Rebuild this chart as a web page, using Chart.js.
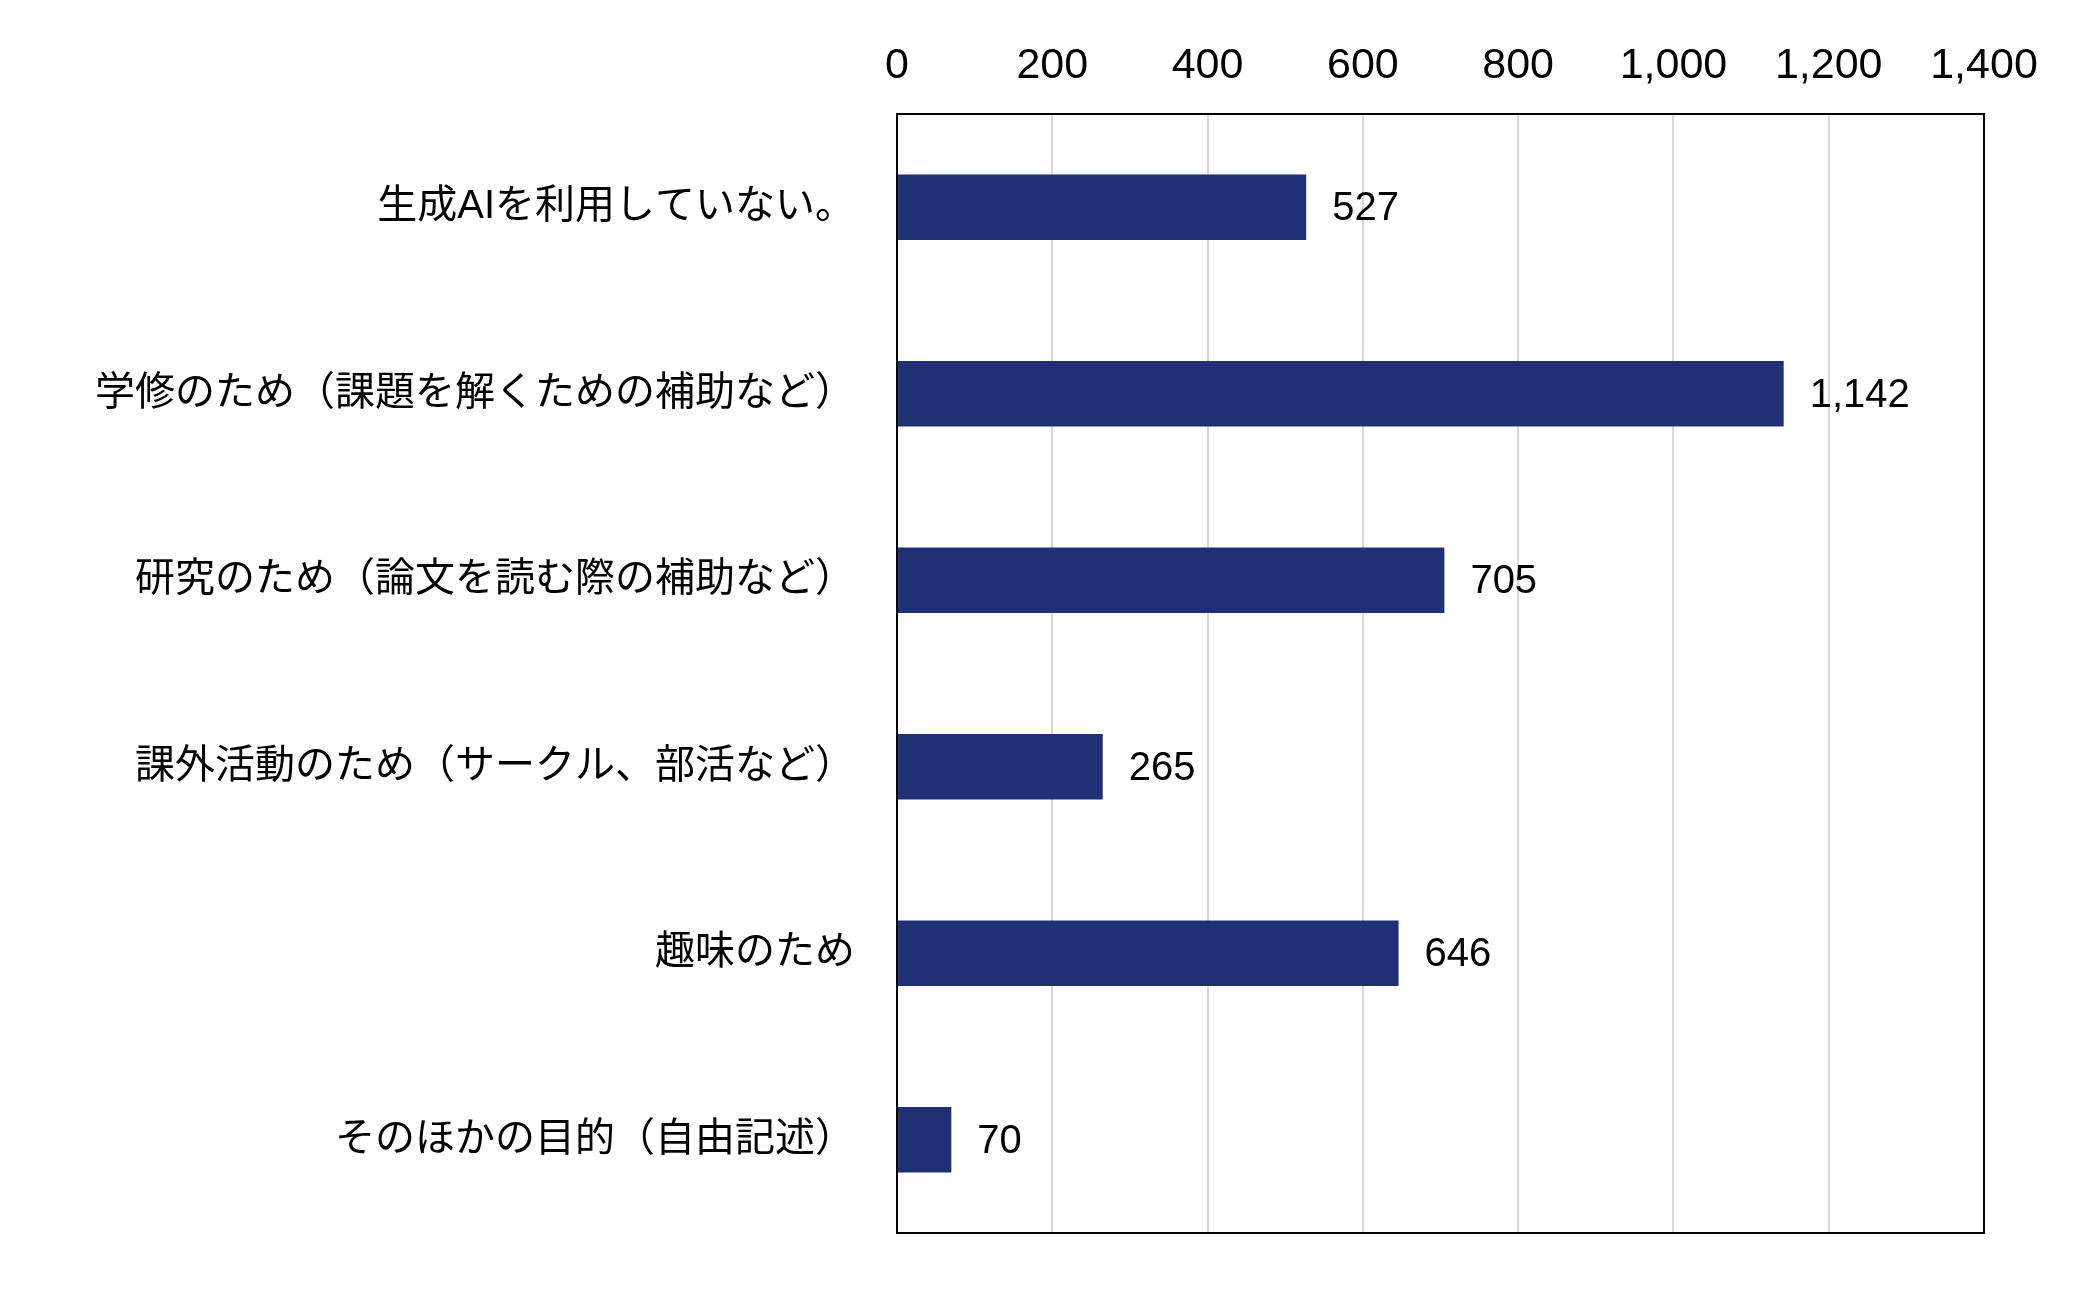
<!DOCTYPE html>
<html><head><meta charset="utf-8">
<script src="https://cdn.jsdelivr.net/npm/chart.js@4/dist/chart.umd.min.js"></script>
<style>html,body{margin:0;padding:0;background:#fff}#w{width:2079px;height:1299px}</style>
</head><body><div id="w"><canvas id="c"></canvas></div>
<script>
const categories = ["生成AIを利用していない。","学修のため（課題を解くための補助など）","研究のため（論文を読む際の補助など）","課外活動のため（サークル、部活など）","趣味のため","そのほかの目的（自由記述）"];
const values = [527,1142,705,265,646,70];
const FONT = "'Liberation Sans','Noto Sans CJK JP',sans-serif";
const frame = {id:'frame', afterDraw(ch){const a=ch.chartArea,c=ch.ctx;c.save();c.strokeStyle='#000';c.lineWidth=2;c.strokeRect(a.left,a.top,a.right-a.left,a.bottom-a.top);
 const m=ch.getDatasetMeta(0);c.fillStyle='#000';c.font="40px "+FONT;c.textBaseline='middle';
 m.data.forEach((b,i)=>{c.fillText(values[i].toLocaleString('en-US'),b.x+26,b.y+2);});c.restore();}};
new Chart(document.getElementById('c'),{type:'bar',
 data:{labels:categories,datasets:[{data:values,backgroundColor:'#1f3174',barPercentage:0.7,categoryPercentage:0.5}]},
 options:{indexAxis:'y',responsive:true,maintainAspectRatio:false,animation:false,
  layout:{padding:{right:95,bottom:37,top:0,left:0}},
  plugins:{legend:{display:false},tooltip:{enabled:false}},
  scales:{
   x:{position:'top',min:0,max:1400,ticks:{stepSize:200,color:'#000',font:{size:43,family:FONT},padding:22,callback:v=>v.toLocaleString('en-US')},
      grid:{color:'#d9d9d9',lineWidth:2,drawTicks:false},border:{display:false},afterFit(s){s.height=114;}},
   y:{ticks:{color:'#000',font:{size:40,family:FONT},padding:42},grid:{display:false,drawTicks:false},border:{display:false},afterFit(s){s.width=897;}}
  }},plugins:[frame]});
</script></body></html>
